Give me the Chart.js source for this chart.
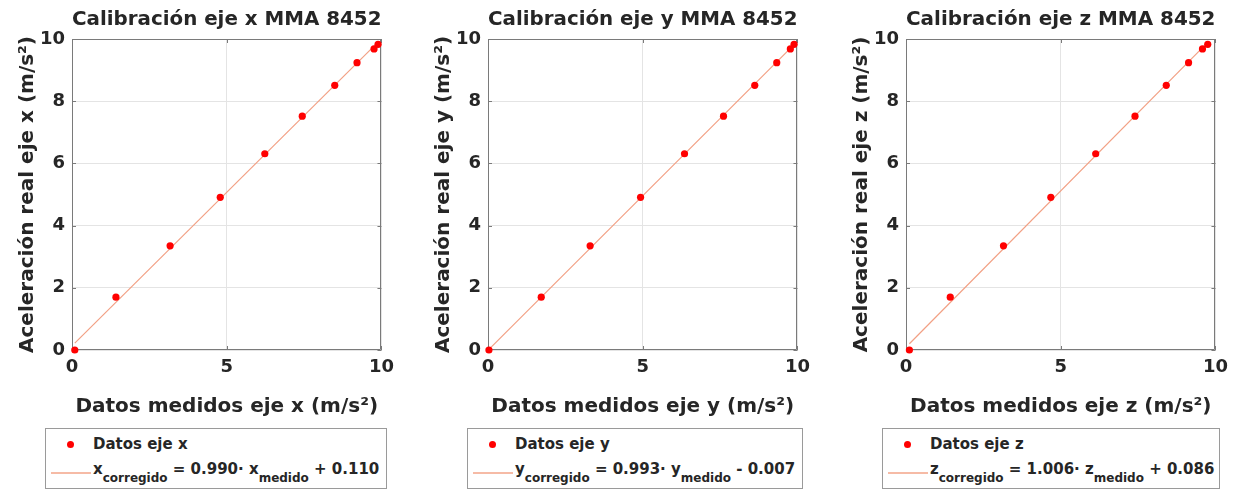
<!DOCTYPE html>
<html>
<head>
<meta charset="utf-8">
<script src="https://cdn.jsdelivr.net/npm/chart.js@4.4.1/dist/chart.umd.min.js"></script>
<style>
  body{margin:0;background:#fff;width:1241px;height:490px;overflow:hidden;
       font-family:"DejaVu Sans",sans-serif;font-weight:bold;color:#262626}
  .pan{position:absolute;top:0;width:401px;height:422px}
  .leg{position:absolute;top:428px;height:61px;box-sizing:border-box;border:1px solid #9a9a9a;font-size:15px}
  .leg .dot{position:absolute;left:21px;top:12px;width:7px;height:7px;border-radius:50%;background:#ff0000}
  .leg .lin{position:absolute;left:5px;top:43px;width:40px;height:1.5px;background:#f6bba6}
  .leg .t1,.leg .t2{position:absolute;left:47px;white-space:nowrap;line-height:18px}
  .leg .t1{top:6px}
  .leg .t2{top:31px}
  .leg sub{font-size:12px;vertical-align:-8px;line-height:0}
</style>
</head>
<body>

<div class="pan" style="left:0px"><canvas id="cX"></canvas></div>
<div class="pan" style="left:416px"><canvas id="cY"></canvas></div>
<div class="pan" style="left:834px"><canvas id="cZ"></canvas></div>

<div class="leg" style="left:45px;width:342px">
  <div class="dot"></div><div class="t1">Datos eje x</div>
  <div class="lin"></div><div class="t2">x<sub>corregido</sub> = 0.990· x<sub>medido</sub> + 0.110</div>
</div>
<div class="leg" style="left:467px;width:336px">
  <div class="dot"></div><div class="t1">Datos eje y</div>
  <div class="lin"></div><div class="t2">y<sub>corregido</sub> = 0.993· y<sub>medido</sub> - 0.007</div>
</div>
<div class="leg" style="left:882px;width:338px">
  <div class="dot"></div><div class="t1">Datos eje z</div>
  <div class="lin"></div><div class="t2">z<sub>corregido</sub> = 1.006· z<sub>medido</sub> + 0.086</div>
</div>

<script>
/* ---------- datos ---------- */
const aceleracionReal = [0, 1.70, 3.35, 4.91, 6.31, 7.52, 8.51, 9.24, 9.68, 9.83];
const medidoX = [0.09, 1.42, 3.17, 4.79, 6.23, 7.44, 8.49, 9.21, 9.76, 9.89];
const medidoY = [0.03, 1.72, 3.30, 4.93, 6.35, 7.61, 8.62, 9.33, 9.77, 9.89];
const medidoZ = [0.11, 1.43, 3.15, 4.68, 6.13, 7.40, 8.41, 9.13, 9.58, 9.75];

/* extremos de la recta de ajuste */
const ajusteX_x = [0.09, 9.89], ajusteX_y = [0.22, 9.90];
const ajusteY_x = [0.03, 9.89], ajusteY_y = [0.02, 9.82];
const ajusteZ_x = [0.11, 9.75], ajusteZ_y = [0.20, 9.89];

const ticksX = [0, 5, 10];
const ticksY = [0, 2, 4, 6, 8, 10];

/* ---------- estilo ---------- */
const FUENTE = '"DejaVu Sans", sans-serif';
const TXT = '#262626';
const MARCO = '#7a7a7a';

/* ---------- caja + marcas hacia dentro (estilo MATLAB) ---------- */
const marco = {
  id:'marco',
  beforeDatasetsDraw(c){
    const {ctx, chartArea:{left,top,right,bottom}} = c;
    ctx.save();
    ctx.strokeStyle = MARCO; ctx.lineWidth = 1;
    ctx.beginPath();
    ctx.rect(Math.round(left)+.5, Math.round(top)+.5, Math.round(right-left)-1, Math.round(bottom-top)-1);
    c.scales.x.ticks.forEach(t=>{
      const p = Math.round(c.scales.x.getPixelForValue(t.value))+.5;
      ctx.moveTo(p,bottom); ctx.lineTo(p,bottom-4);
      ctx.moveTo(p,top);    ctx.lineTo(p,top+4);
    });
    c.scales.y.ticks.forEach(t=>{
      const p = Math.round(c.scales.y.getPixelForValue(t.value))+.5;
      ctx.moveTo(left,p);  ctx.lineTo(left+4,p);
      ctx.moveTo(right,p); ctx.lineTo(right-4,p);
    });
    ctx.stroke();
    ctx.restore();
  }
};

const pares = (xs,ys)=>xs.map((x,i)=>({x, y:ys[i]}));

function grafico(id, eje, xs, fx, fy){
  return new Chart(document.getElementById(id), {
    type:'scatter',
    data:{datasets:[
      {label:'Datos eje '+eje, data:pares(xs, aceleracionReal),
       backgroundColor:'#ff0000', borderWidth:0, pointRadius:3.6, pointHoverRadius:3.6, clip:false},
      {label:'ajuste', data:pares(fx, fy), showLine:true,
       borderColor:'#f2a084', borderWidth:1.2, pointRadius:0, clip:false}
    ]},
    options:{
      responsive:true, maintainAspectRatio:false, animation:false, events:[],
      layout:{padding:{left:0, right:14, top:0, bottom:0}},
      plugins:{
        legend:{display:false}, tooltip:{enabled:false},
        title:{display:true, fullSize:false, text:'Calibración eje '+eje+' MMA 8452',
               color:TXT, font:{family:FUENTE, size:20, weight:'bold'}, padding:{top:8, bottom:7}}
      },
      scales:{
        x:{type:'linear', min:0, max:10,
           afterBuildTicks:s=>{s.ticks = ticksX.map(v=>({value:v}));},
           ticks:{padding:7, color:TXT, font:{family:FUENTE, size:18, weight:'bold'}},
           grid:{color:'#e4e4e4', drawTicks:false}, border:{display:false},
           title:{display:true, text:'Datos medidos eje '+eje+' (m/s²)', color:TXT,
                  font:{family:FUENTE, size:20, weight:'bold'}, padding:{top:0, bottom:3}},
           afterFit:s=>{s.height = 72;}},
        y:{type:'linear', min:0, max:10,
           afterBuildTicks:s=>{s.ticks = ticksY.map(v=>({value:v}));},
           ticks:{padding:7, color:TXT, font:{family:FUENTE, size:18, weight:'bold'}},
           grid:{color:'#e4e4e4', drawTicks:false}, border:{display:false},
           title:{display:true, text:'Aceleración real eje '+eje+' (m/s²)', color:TXT,
                  font:{family:FUENTE, size:20, weight:'bold'}, padding:{top:16, bottom:0}},
           afterFit:s=>{s.width = 72;}}
      }
    },
    plugins:[marco]
  });
}

grafico('cX', 'x', medidoX, ajusteX_x, ajusteX_y);
grafico('cY', 'y', medidoY, ajusteY_x, ajusteY_y);
grafico('cZ', 'z', medidoZ, ajusteZ_x, ajusteZ_y);
</script>
</body>
</html>
